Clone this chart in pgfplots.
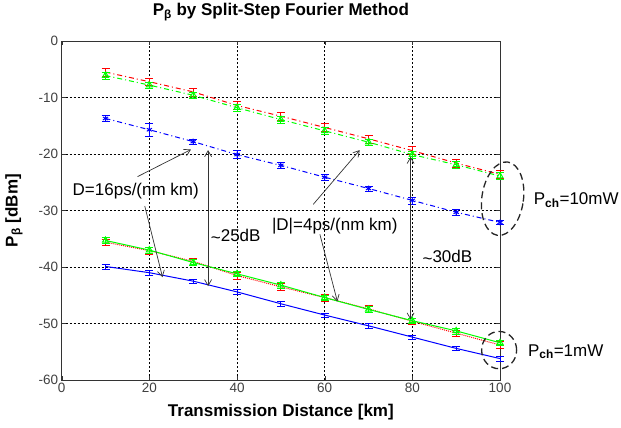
\documentclass[border=0pt]{standalone}
\usepackage{fontspec}
\setmainfont{Liberation Sans}
\usepackage{pgfplots}
\pgfplotsset{compat=1.18}
\usetikzlibrary{arrows.meta,shapes.geometric}
\definecolor{mred}{rgb}{1,0,0}
\definecolor{mgreen}{rgb}{0,1,0}
\definecolor{mblue}{rgb}{0,0,1}
\begin{document}
\begin{tikzpicture}[
  ann/.style={font=\fontsize{17}{18}\selectfont, text=black, inner sep=0pt},
  arr/.style={black!80, line width=0.7pt, -{Straight Barb[length=6pt,width=7pt]}},
  darr/.style={black!80, line width=0.7pt, {Straight Barb[length=6pt,width=7pt]}-{Straight Barb[length=6pt,width=7pt]}},
  dd/.style={dash pattern=on 5pt off 3pt on 1pt off 3pt}
]
\begin{axis}[
  name=ax,
  scale only axis, width=438.3pt, height=339pt,
  xmin=0, xmax=100, ymin=-60, ymax=0,
  xtick={0,20,...,100}, ytick={-60,-50,...,0},
  grid=major,
  major grid style={black, line width=0.7pt, dash pattern=on 2pt off 2pt},
  axis line style={black!80, line width=0.7pt},
  tick align=inside, major tick length=4pt, tick style={black!80},
  ticklabel style={font=\fontsize{13.5}{14}\selectfont, text=black!75},
  /pgf/number format/assume math mode=true,
  clip=false,
  title={P\textsubscript{β} by Split-Step Fourier Method},
  title style={font=\bfseries\fontsize{17}{18}\selectfont, at={(axis description cs:0.5,1.0572)}, anchor=base},
  xlabel={Transmission Distance [km]},
  xlabel style={font=\bfseries\fontsize{17}{18}\selectfont, at={(axis description cs:0.5,-0.108)}, anchor=base},
  ylabel={P\textsubscript{β} [dBm]},
  ylabel style={font=\bfseries\fontsize{17}{18}\selectfont, at={(axis description cs:-0.109,0.5)}, anchor=center},
  error bars/error mark options={rotate=90, mark size=4pt},
]
% ---- P_ch = 10 mW ----
\addplot[mred, line width=1pt, dd, mark=none,
  error bars/.cd, y dir=both, y fixed=0.7, error bar style={solid, line width=0.9pt}]
  coordinates {(10,-5.5)(20,-7.2)(30,-9.0)(40,-11.4)(50,-13.3)(60,-15.3)(70,-17.3)(80,-19.4)(90,-21.6)(100,-23.6)};
\addplot[mgreen, line width=1pt, dd, mark=triangle, mark size=3.5pt, mark options={solid},
  error bars/.cd, y dir=both, y fixed=0.6, error bar style={solid, line width=0.9pt}]
  coordinates {(10,-6.1)(20,-7.8)(30,-9.6)(40,-11.8)(50,-13.9)(60,-15.9)(70,-17.9)(80,-20.1)(90,-21.9)(100,-23.9)};
\addplot[mblue, line width=1pt, dd, mark=asterisk, mark size=3pt, mark options={solid},
  error bars/.cd, y dir=both, y explicit, error bar style={solid, line width=0.9pt}]
  coordinates {(10,-13.7)+-(0,0.5) (20,-15.7)+-(0,1.2) (30,-17.8)+-(0,0.5) (40,-20.1)+-(0,0.7) (50,-22.0)+-(0,0.5) (60,-24.1)+-(0,0.6) (70,-26.1)+-(0,0.4) (80,-28.2)+-(0,0.6) (90,-30.3)+-(0,0.5) (100,-32.1)+-(0,0.4)};
% ---- P_ch = 1 mW ----
\addplot[mred, line width=1pt, densely dotted, mark=none,
  error bars/.cd, y dir=both, y fixed=0.6, error bar style={solid, line width=0.9pt}]
  coordinates {(10,-35.6)(20,-37.1)(30,-39.0)(40,-41.5)(50,-43.5)(60,-45.4)(70,-47.4)(80,-49.6)(90,-51.7)(100,-53.8)};
\addplot[mgreen, line width=1pt, mark=triangle, mark size=3.5pt,
  error bars/.cd, y dir=both, y fixed=0.5, error bar style={line width=0.9pt}]
  coordinates {(10,-35.3)(20,-37.0)(30,-39.2)(40,-41.2)(50,-43.2)(60,-45.4)(70,-47.5)(80,-49.5)(90,-51.3)(100,-53.4)};
\addplot[mblue, line width=1pt, mark=none,
  error bars/.cd, y dir=both, y fixed=0.4, error bar style={line width=0.9pt}]
  coordinates {(10,-39.9)(20,-41.0)(30,-42.5)(40,-44.4)(50,-46.5)(60,-48.5)(70,-50.4)(80,-52.4)(90,-54.4)(100,-56.2)};
% ---- annotations ----
\node[ann] at (axis cs:16.9,-26.5) {D=16ps/(nm km)};
\draw[arr] (axis cs:17.3,-24.0) -- (axis cs:29.5,-19.2);
\draw[arr] (axis cs:18.95,-29.2) -- (axis cs:23.0,-41.8);
\draw[darr] (axis cs:33.4,-19.3) -- (axis cs:33.4,-43.4);
\node[ann] at (axis cs:39.7,-34.5) {\raisebox{-0.25ex}{\textasciitilde}25dB};
\node[ann] at (axis cs:62.3,-32.7) {|D|=4ps/(nm km)};
\draw[arr] (axis cs:57.4,-28.9) -- (axis cs:68.0,-19.3);
\draw[arr] (axis cs:58.9,-34.2) -- (axis cs:62.9,-46.1);
\draw[darr] (axis cs:79.6,-20.5) -- (axis cs:79.6,-49.3);
\node[ann] at (axis cs:88,-38.3) {\raisebox{-0.25ex}{\textasciitilde}30dB};
\node[draw=black!85, ellipse, line width=1.3pt, dash pattern=on 7pt off 4pt, minimum width=41.6pt, minimum height=74pt, inner sep=0pt, rotate=-8] at (axis cs:100.6,-27.9) {};
\node[draw=black!85, ellipse, line width=1.3pt, dash pattern=on 7pt off 4pt, minimum width=35pt, minimum height=37.3pt, inner sep=0pt] at (axis cs:99.8,-54.7) {};
\node[ann] at (axis cs:117.4,-28.1) {P\textsubscript{\bfseries ch}=10mW};
\node[ann] at (axis cs:115.0,-55.0) {P\textsubscript{\bfseries ch}=1mW};
\end{axis}
\path (ax.south west) ++(-61.7pt,-47.3pt) rectangle ++(621pt,424pt);
\end{tikzpicture}
\end{document}
